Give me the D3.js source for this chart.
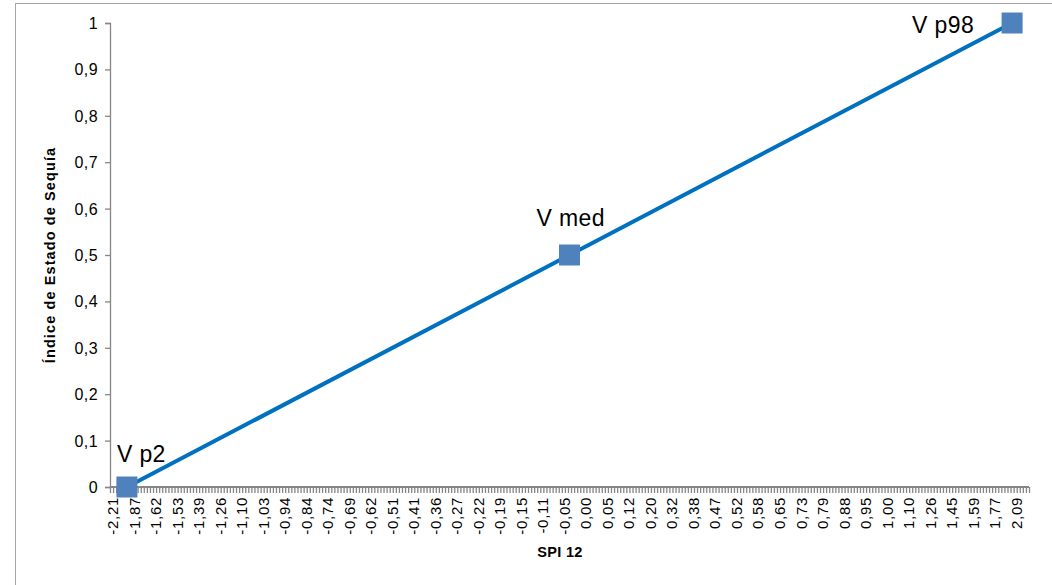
<!DOCTYPE html>
<html>
<head>
<meta charset="utf-8">
<script src="https://cdn.jsdelivr.net/npm/d3@7"></script>
<style>
  html, body { margin: 0; padding: 0; background: #fff; }
  svg { display: block; font-family: "Liberation Sans", Arial, sans-serif; }
</style>
</head>
<body>
<svg id="chart" width="1052" height="585"></svg>
<script>
// SPI 12 categories (sorted), one label shown every 7th category
const categoryCount = 299;
const labelStep = 7;
const spiTickLabels = [
  "-2,21", "-1,87", "-1,62", "-1,53", "-1,39", "-1,26", "-1,10", "-1,03",
  "-0,94", "-0,84", "-0,74", "-0,69", "-0,62", "-0,51", "-0,41", "-0,36",
  "-0,27", "-0,22", "-0,19", "-0,15", "-0,11", "-0,05", "0,00", "0,05",
  "0,12", "0,20", "0,32", "0,38", "0,47", "0,52", "0,58", "0,65", "0,73",
  "0,79", "0,88", "0,95", "1,00", "1,10", "1,26", "1,45", "1,59", "1,77", "2,09"
];

// Reference points of the index: category position and index value
const pointNames = ["V p2", "V med", "V p98"];
const pointCategories = [5, 149, 293];
const pointValues = [0, 0.5, 1];

// Index line (Índice de Estado de Sequía) through the reference points
const lineCategories = [5, 149, 293];
const lineValues = [0, 0.5, 1];

const yTicks = [0, 0.1, 0.2, 0.3, 0.4, 0.5, 0.6, 0.7, 0.8, 0.9, 1];

const svg = d3.select("#chart");
const plot = { left: 110, right: 1029, top: 23, bottom: 487 };
const axisGrey = "#868686";

// Chart area border
svg.append("rect")
  .attr("x", 15.5).attr("y", 3.5)
  .attr("width", 1100).attr("height", 700)
  .attr("fill", "none").attr("stroke", "#a6a6a6").attr("stroke-width", 1);

const indices = d3.range(categoryCount);
const x = d3.scaleBand().domain(indices).range([plot.left, plot.right]).padding(0);
const cx = i => x(i) + x.bandwidth() / 2;
const y = d3.scaleLinear().domain([0, 1]).range([plot.bottom, plot.top]);

const fmt = v => (v === 0 || v === 1) ? String(v) : d3.format(".1f")(v).replace(".", ",");

// Y axis
const yAxis = svg.append("g")
  .attr("transform", `translate(${plot.left},0)`)
  .call(d3.axisLeft(y).tickValues(yTicks).tickFormat(fmt).tickSize(5).tickPadding(7));
yAxis.select(".domain").attr("stroke", axisGrey).attr("stroke-width", 1.3);
yAxis.selectAll(".tick line").attr("stroke", axisGrey).attr("stroke-width", 1.3);
yAxis.selectAll(".tick text")
  .attr("font-size", 16).attr("fill", "#000")
  .attr("letter-spacing", "0.4px")
  .attr("dy", "0.34em")
  .attr("font-family", "Liberation Sans, Arial, sans-serif");

// X axis: a tick at every category boundary
const xAxisG = svg.append("g").attr("transform", `translate(0,${plot.bottom})`);
xAxisG.append("line")
  .attr("x1", plot.left).attr("x2", plot.right)
  .attr("y1", 0).attr("y2", 0)
  .attr("stroke", axisGrey).attr("stroke-width", 2);
xAxisG.selectAll("line.cat")
  .data(d3.range(categoryCount + 1))
  .join("line")
  .attr("class", "cat")
  .attr("x1", i => (i < categoryCount ? x(i) : plot.right) + 0.5)
  .attr("x2", i => (i < categoryCount ? x(i) : plot.right) + 0.5)
  .attr("y1", 0).attr("y2", 6)
  .attr("stroke", axisGrey).attr("stroke-width", 1.3);

// Category labels, rotated
xAxisG.selectAll("text.lab")
  .data(spiTickLabels)
  .join("text")
  .attr("class", "lab")
  .attr("transform", (d, k) => `translate(${cx(k * labelStep) + 6.5},10) rotate(-90)`)
  .attr("text-anchor", "end")
  .attr("font-size", 15)
  .attr("letter-spacing", "0.7px")
  .attr("fill", "#000")
  .text(d => d);

// Axis titles
svg.append("text")
  .attr("x", 560).attr("y", 557)
  .attr("text-anchor", "middle")
  .attr("font-size", 14.5).attr("font-weight", "bold")
  .attr("letter-spacing", "0.3px")
  .text("SPI 12");

svg.append("text")
  .attr("transform", "translate(55,255) rotate(-90)")
  .attr("text-anchor", "middle")
  .attr("font-size", 14.5).attr("font-weight", "bold")
  .attr("letter-spacing", "1.1px")
  .text("Índice de Estado de Sequía");

// Index line
const line = d3.line().x((d, k) => cx(lineCategories[k])).y(d => y(d));
svg.append("path")
  .datum(lineValues)
  .attr("d", line)
  .attr("fill", "none")
  .attr("stroke", "#0070c0")
  .attr("stroke-width", 4)
  .attr("stroke-linecap", "round");

// Reference point markers
const pts = pointNames.map((n, k) => ({ name: n, c: pointCategories[k], v: pointValues[k] }));
const size = 21;
svg.selectAll("rect.pt")
  .data(pts)
  .join("rect")
  .attr("class", "pt")
  .attr("x", d => cx(d.c) - size / 2)
  .attr("y", d => y(d.v) - size / 2)
  .attr("width", size).attr("height", size)
  .attr("fill", "#4f81bd");

// Reference point labels (offset of the text start and baseline from the marker)
const labelOffsets = [[-10, -25], [-33, -29], [-100, 10]];
svg.selectAll("text.ptlab")
  .data(pts)
  .join("text")
  .attr("class", "ptlab")
  .attr("x", (d, k) => cx(d.c) + labelOffsets[k][0])
  .attr("y", (d, k) => y(d.v) + labelOffsets[k][1])
  .attr("font-size", 23)
  .attr("letter-spacing", "0.4px")
  .attr("fill", "#000")
  .text(d => d.name);
</script>
</body>
</html>
